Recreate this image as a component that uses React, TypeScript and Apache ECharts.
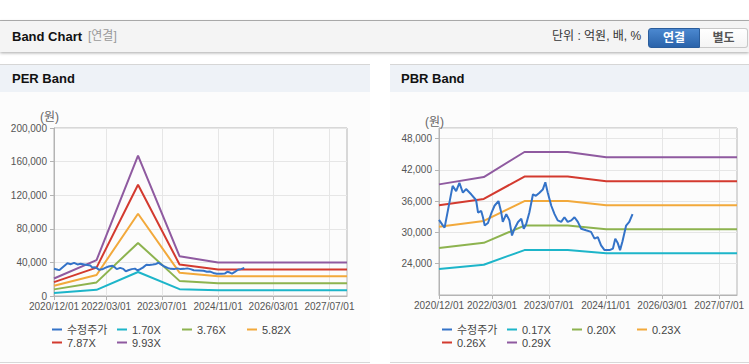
import React, { useEffect, useRef } from 'react';
import * as echarts from 'echarts';

// ---- axis ----
const AXIS_START = '2020/12/01';
const AXIS_END = '2027/12/01';
const TICK_DATES = ['2020/12/01', '2022/03/01', '2023/07/01', '2024/11/01', '2026/03/01', '2027/07/01'];

// ---- 수정주가 (adjusted price) ----
const PRICE_DATES = [
  '2020/12/01', '2021/01/04', '2021/01/18', '2021/03/28', '2021/04/27', '2021/05/25', '2021/06/24',
  '2021/07/21', '2021/09/03', '2021/10/15', '2021/11/01', '2021/11/28', '2021/12/13', '2021/12/28',
  '2022/01/25', '2022/02/25', '2022/03/22', '2022/04/25', '2022/05/19', '2022/06/01', '2022/07/01',
  '2022/07/28', '2022/08/19', '2022/09/10', '2022/10/10', '2022/11/07', '2022/11/28', '2022/12/19',
  '2023/01/15', '2023/02/15', '2023/03/12', '2023/04/12', '2023/05/10', '2023/06/01', '2023/06/22',
  '2023/07/22', '2023/08/19', '2023/09/15', '2023/10/15', '2023/11/12', '2023/12/10', '2024/01/10',
  '2024/02/06', '2024/03/06', '2024/04/03', '2024/05/15', '2024/06/27', '2024/07/27', '2024/08/24',
  '2024/09/21', '2024/10/21', '2024/12/03', '2025/01/01', '2025/01/21', '2025/02/12', '2025/03/03',
  '2025/03/24', '2025/04/24', '2025/05/21', '2025/06/18'
];
const PRICE = [
  32400, 31300, 30900, 38900, 37900, 39500, 37600,
  38300, 37300, 36200, 33800, 34100, 32900, 31300,
  31800, 33800, 35100, 36000, 33800, 32000, 33500,
  32300, 29400, 30700, 32000, 32600, 30700, 31600,
  33800, 37300, 37000, 37600, 38200, 39600, 37600,
  35100, 33500, 32300, 32000, 32900, 32000, 32300,
  32900, 32000, 30700, 30400, 30100, 28800, 29100,
  27500, 26600, 26600, 26900, 28800, 27900, 26600,
  28300, 31300, 32000, 33500
];

// ---- PER band ----
const PER_NAMES = ['수정주가', '1.70X', '3.76X', '5.82X', '7.87X', '9.93X'];
const PER_BAND_DATES = ['2020/12/01', '2021/12/07', '2022/12/04', '2023/12/01', '2024/11/01', '2027/12/01'];
const PER_170 = [3600, 7300, 28600, 8100, 6800, 6800];
const PER_376 = [7900, 16200, 63200, 18000, 15100, 15100];
const PER_582 = [12200, 25000, 97900, 27800, 23400, 23400];
const PER_787 = [16500, 33800, 132400, 37600, 31600, 31600];
const PER_993 = [20800, 42700, 167000, 47400, 39900, 39900];

// ---- PBR band ----
const PBR_NAMES = ['수정주가', '0.17X', '0.20X', '0.23X', '0.26X', '0.29X'];
const PBR_BAND_DATES = ['2020/12/01', '2021/12/20', '2022/12/04', '2023/12/10', '2024/11/04', '2027/12/01'];
const PBR_017 = [23000, 23800, 26600, 26600, 26000, 26000];
const PBR_020 = [27000, 28000, 31300, 31300, 30600, 30600];
const PBR_023 = [31100, 32200, 36000, 36000, 35200, 35200];
const PBR_026 = [35200, 36400, 40700, 40700, 39800, 39800];
const PBR_029 = [39200, 40600, 45400, 45400, 44400, 44400];

const COLORS = ['#3473c8', '#1db5c9', '#8db34f', '#f2a93b', '#d33a2f', '#8f5aa0'];
const LEGEND_POS = [[52, 231], [117, 231], [182, 231], [247, 231], [52, 244], [117, 244]];

const AXIS_FONT = "'Liberation Sans Narrow', 'Arial Narrow', 'Liberation Sans', sans-serif";
const LEGEND_FONT = "'Liberation Sans', 'Noto Sans CJK KR', sans-serif";
const UI_FONT = "'Liberation Sans', 'Noto Sans CJK KR', sans-serif";

const ts = (d: string) => new Date(d).getTime();
const zip = (ds: string[], vs: number[]) => ds.map((d, i) => [ts(d), vs[i]]);
const pad2 = (n: number) => (n < 10 ? '0' + n : '' + n);

function buildOption(
  names: string[],
  bandDates: string[],
  bands: number[][],
  yMin: number,
  yMax: number,
  yInterval: number,
  grid: { left: number; right: number; top: number; bottom: number },
  hideEnds: boolean
) {
  const tickValues = TICK_DATES.map(ts);
  const series: any[] = bands.map((b, i) => ({
    name: names[i + 1],
    type: 'line',
    data: zip(bandDates, b),
    showSymbol: false,
    symbol: 'none',
    lineStyle: { width: 2, color: COLORS[i + 1] },
    itemStyle: { color: COLORS[i + 1] },
    z: 2,
  }));
  series.push({
    name: names[0],
    type: 'line',
    data: zip(PRICE_DATES, PRICE),
    showSymbol: false,
    symbol: 'none',
    lineStyle: { width: 2, color: COLORS[0] },
    itemStyle: { color: COLORS[0] },
    z: 3,
  });
  return {
    animation: false,
    color: COLORS,
    grid: { ...grid, show: true, borderColor: '#b4b4b4', borderWidth: 1, backgroundColor: 'transparent' },
    legend: names.map((n, i) => ({
      data: [n],
      left: LEGEND_POS[i][0],
      top: LEGEND_POS[i][1],
      padding: 0,
      itemWidth: 10,
      itemHeight: 2,
      icon: 'rect',
      selectedMode: false,
      textStyle: { fontSize: 11, color: '#444', fontFamily: LEGEND_FONT, lineHeight: 13 },
    })),
    xAxis: {
      type: 'value',
      min: ts(AXIS_START),
      max: ts(AXIS_END),
      axisLine: { show: true, lineStyle: { color: '#b4b4b4' } },
      axisTick: { show: true, length: 4, lineStyle: { color: '#b4b4b4' }, customValues: tickValues },
      axisLabel: {
        customValues: tickValues,
        margin: 5,
        fontSize: 10,
        color: '#555',
        fontFamily: AXIS_FONT,
        hideOverlap: false,
        formatter: (v: number) => {
          const d = new Date(v);
          return d.getFullYear() + '/' + pad2(d.getMonth() + 1) + '/' + pad2(d.getDate());
        },
      },
      splitLine: { show: true, lineStyle: { color: '#e6e6e6' } },
    },
    yAxis: {
      type: 'value',
      min: yMin,
      max: yMax,
      interval: yInterval,
      name: '(원)',
      nameLocation: 'end',
      nameGap: 0,
      nameTextStyle: { color: '#666', fontSize: 12, fontFamily: LEGEND_FONT, align: 'center', padding: [0, 9, 0, 0] },
      axisLine: { show: true, lineStyle: { color: '#b4b4b4' } },
      axisTick: { show: true, length: 4, lineStyle: { color: '#b4b4b4' } },
      axisLabel: {
        margin: 7,
        fontSize: 10,
        color: '#555',
        fontFamily: AXIS_FONT,
        showMinLabel: !hideEnds,
        showMaxLabel: !hideEnds,
        formatter: (v: number) => v.toLocaleString('en-US'),
      },
      splitLine: { show: true, lineStyle: { color: '#e6e6e6' } },
    },
    series,
  };
}

export default function App() {
  const perRef = useRef<HTMLDivElement>(null);
  const pbrRef = useRef<HTMLDivElement>(null);

  useEffect(() => {
    const c1 = echarts.init(perRef.current!, null, { renderer: 'svg' });
    c1.setOption(
      buildOption(
        PER_NAMES,
        PER_BAND_DATES,
        [PER_170, PER_376, PER_582, PER_787, PER_993],
        0,
        200000,
        40000,
        { left: 54, right: 23, top: 36, bottom: 66 },
        false
      ) as any
    );
    const c2 = echarts.init(pbrRef.current!, null, { renderer: 'svg' });
    c2.setOption(
      buildOption(
        PBR_NAMES,
        PBR_BAND_DATES,
        [PBR_017, PBR_020, PBR_023, PBR_026, PBR_029],
        18000,
        50000,
        6000,
        { left: 49, right: 12, top: 36, bottom: 67 },
        true
      ) as any
    );
    return () => {
      c1.dispose();
      c2.dispose();
    };
  }, []);

  const abs = (s: React.CSSProperties): React.CSSProperties => ({ position: 'absolute', boxSizing: 'border-box', ...s });

  return (
    <div style={abs({ left: 0, top: 0, width: 749, height: 364, background: '#fff', overflow: 'hidden', fontFamily: UI_FONT })}>
      {/* top header */}
      <div style={abs({ left: 0, top: 20, width: 749, height: 1.5, background: '#b3b3b3' })} />
      <div
        style={abs({
          left: 0,
          top: 21,
          width: 749,
          height: 31,
          background: '#f4f4f4',
          boxShadow: '0 1px 3px rgba(0,0,0,0.35)',
        })}
      >
        <span style={abs({ left: 12, top: 0, lineHeight: '31px', fontSize: 13, fontWeight: 'bold', color: '#111', whiteSpace: 'nowrap' })}>
          Band Chart
        </span>
        <span style={abs({ left: 88, top: 0, lineHeight: '31px', fontSize: 12, color: '#999', whiteSpace: 'nowrap' })}>[연결]</span>
        <span style={abs({ left: 552, top: 0, lineHeight: '31px', fontSize: 12, color: '#333', whiteSpace: 'nowrap' })}>
          단위 : 억원, 배, %
        </span>
        <div
          style={abs({
            left: 648,
            top: 7,
            width: 52,
            height: 20,
            background: 'linear-gradient(#4b88d0, #2a63aa)',
            border: '1px solid #2a5d9c',
            borderRadius: '3px 0 0 3px',
            color: '#fff',
            fontWeight: 'bold',
            fontSize: 12,
            textAlign: 'center',
            lineHeight: '18px',
          })}
        >
          연결
        </div>
        <div
          style={abs({
            left: 700,
            top: 7,
            width: 48,
            height: 20,
            background: 'linear-gradient(#ffffff, #f4f4f4)',
            border: '1px solid #c8c8c8',
            borderLeft: 'none',
            borderRadius: '0 3px 3px 0',
            color: '#555',
            fontWeight: 'bold',
            fontSize: 12,
            textAlign: 'center',
            lineHeight: '18px',
          })}
        >
          별도
        </div>
      </div>

      {/* PER panel */}
      <div style={abs({ left: 0, top: 64, width: 370, height: 28, background: '#eef2f7', borderTop: '1px solid #d6d6d6' })}>
        <span style={abs({ left: 12, top: 0, lineHeight: '27px', fontSize: 13, fontWeight: 'bold', color: '#111' })}>PER Band</span>
      </div>
      <div style={abs({ left: 0, top: 92, width: 370, height: 270, background: '#fcfcfc' })} />
      <div style={abs({ left: 0, top: 362, width: 370, height: 1, background: '#d8d8d8' })} />
      <div ref={perRef} style={abs({ left: 0, top: 92, width: 370, height: 270 })} />

      {/* PBR panel */}
      <div style={abs({ left: 390, top: 64, width: 359, height: 28, background: '#eef2f7', borderTop: '1px solid #d6d6d6' })}>
        <span style={abs({ left: 11, top: 0, lineHeight: '27px', fontSize: 13, fontWeight: 'bold', color: '#111' })}>PBR Band</span>
      </div>
      <div style={abs({ left: 390, top: 92, width: 359, height: 270, background: '#fcfcfc' })} />
      <div style={abs({ left: 390, top: 362, width: 359, height: 1, background: '#d8d8d8' })} />
      <div ref={pbrRef} style={abs({ left: 390, top: 92, width: 359, height: 270 })} />
    </div>
  );
}
